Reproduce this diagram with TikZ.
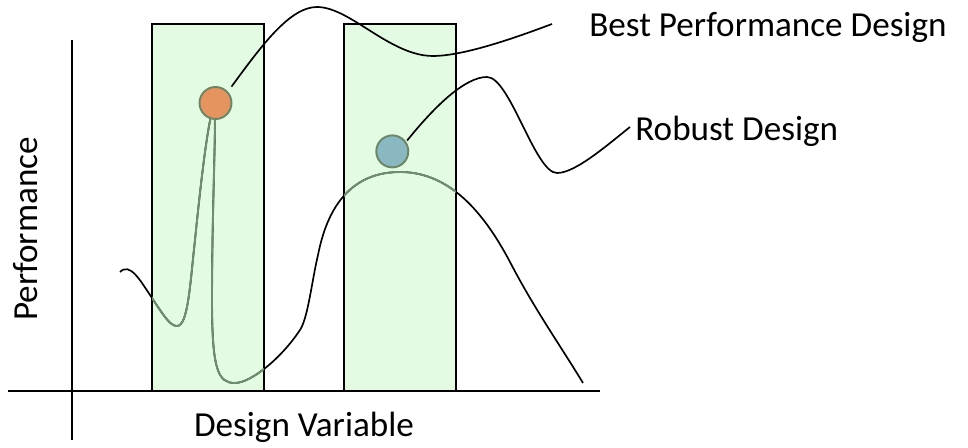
\documentclass[tikz,border=0pt]{standalone}
\usepackage{fontspec}
\setmainfont{Carlito}
\usepackage{tikz}
\usetikzlibrary{positioning}
\definecolor{dvBoxFill}{HTML}{E3FBE3}
\definecolor{dvGreen}{HTML}{6E8F6E}
\definecolor{dvRim}{HTML}{6B8565}
\definecolor{dvOrange}{HTML}{E5935F}
\definecolor{dvBlue}{HTML}{89B8C2}
\newcommand{\lblfont}{\fontsize{20}{24}\selectfont}
%% performance curve, pixel units (y downwards)
\newcommand{\perfcurve}{
  (120,272) .. controls (130,262) and (140,280) .. (152,298)
  .. controls (164,316) and (170,326) .. (177,326)
  .. controls (188,326) and (190,285) .. (195,240)
  .. controls (200,190) and (208,118) .. (214,106)
  .. controls (217,112) and (212,200) .. (212,300)
  .. controls (212,370) and (218,383) .. (235,383)
  .. controls (250,383) and (280,360) .. (300,330)
  .. controls (308,318) and (312,280) .. (318,255)
  .. controls (324,225) and (340,172) .. (400,172)
  .. controls (445,172) and (480,205) .. (510,262)
  .. controls (535,310) and (560,345) .. (583,383)}

\begin{document}
\begin{tikzpicture}[
  x=0.02cm, y=-0.02cm,
  %% --- Node styles ---
  window/.style={
    rectangle, draw=black, fill=dvBoxFill, line width=1.3pt,
    minimum width=2.24cm, minimum height=7.34cm,
    inner sep=0pt, outer sep=0pt
  },
  design/.style={
    circle, minimum size=0.64cm, inner sep=0pt, outer sep=0pt,
    draw=dvRim, line width=1.1pt
  },
  label/.style={font=\lblfont, inner sep=0pt},
  %% --- Line styles ---
  axis/.style={line width=1.3pt, draw=black},
  curve/.style={line width=0.95pt, draw=black},
  curveIn/.style={line width=1.1pt, draw=dvGreen},
  leader/.style={line width=0.95pt, draw=black}
]
\useasboundingbox (0,0) rectangle (968,448);

%% axes
\draw[axis] (8,391) -- (600,391);
\draw[axis] (72,40) -- (72,440);

%% design windows
\node (winL) [window] at (208,207.5) {};
\node (winR) [window] at (400,207.5) {};

%% performance curve, green inside the windows
\draw[curve] \perfcurve;
\begin{scope}
  \clip (winL.south west) rectangle (winL.north east)
        (winR.south west) rectangle (winR.north east);
  \draw[curveIn] \perfcurve;
\end{scope}

%% designs
\node (best)   [design, fill=dvOrange] at (215.5,103) {};
\node (robust) [design, fill=dvBlue]   at (392.3,151.4) {};

%% labels
\node (lblBest)   [label, anchor=base west] at (589,36.5) {Best Performance Design};
\node (lblRobust) [label, anchor=base west] at (635,140.5) {Robust Design};
\node (lblVar)    [label, anchor=base] at (304,436.7) {Design Variable};
\node (lblPerf)   [label, anchor=base, rotate=90] at (37,229) {Performance};

\coordinate (bestEnd)   at (552,24);
\coordinate (robustEnd) at (630,127);

%% leaders
\draw[leader, shorten <=0.14cm] (best.42)
  .. controls (262,45) and (290,7) .. (317,7)
  .. controls (350,7) and (390,56) .. (433,56)
  .. controls (465,56) and (520,36) .. (bestEnd);
\draw[leader, shorten <=0.05cm] (robust.34)
  .. controls (435,106) and (465,77) .. (487,77)
  .. controls (510,77) and (535,173) .. (557,173)
  .. controls (575,173) and (605,147) .. (robustEnd);
\end{tikzpicture}
\end{document}
